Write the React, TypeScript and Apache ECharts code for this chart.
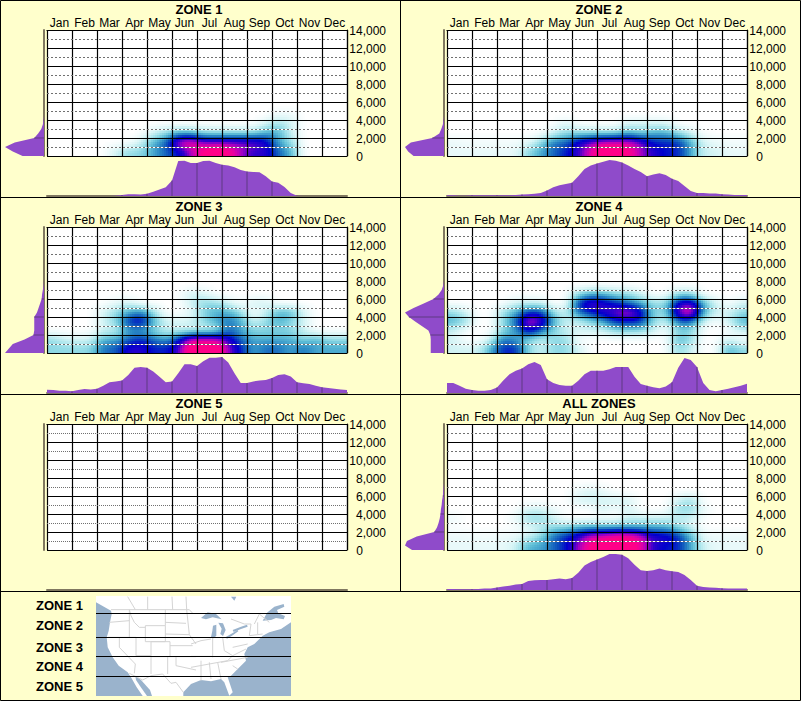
import React, { useEffect, useRef } from "react";
import * as echarts from "echarts";

const months = ["Jan","Feb","Mar","Apr","May","Jun","Jul","Aug","Sep","Oct","Nov","Dec"];
const heatColors = ["#ffffff","#d8f5f6","#9fe1e9","#5fbed6","#2a88c4","#0a4cbc","#0000cc","#3000cc","#a000c4","#e400a4","#ff0088"];
const purple = "#8f4bca";
const FONT = "'Liberation Sans', Arial, sans-serif";

// Heat rows run from 7,500 ft (top) down to 500 ft; each has two columns per month.
const zone1Heat = [
  [0,0,0,0,0,0,0,0,0,0,0,0,0,0,0,0,0,0,0,0,0,0,0,0],
  [0,0,0,0,0,0,0,0,0,0,0,0,0,0,0,0,0,0,0,0,0,0,0,0],
  [0,0,0,0,0,0,0,0,0,0,0,0,0,0,0,0,0,0,0,0,0,0,0,0],
  [0,0,0,0,0,0,0,0,0,0,0,0,0,0,0,0,0,0,0.5,0.5,0,0,0,0],
  [0,0,0,0,0,0,0,0,0,0,0,0,0,0,0,0,0,1,2,1,0,0,0,0],
  [0,0,0,0,0,0,0,0,1,2,3,3,2,2,2,2,2,3,3,1,0,0,0,0],
  [0,0,0,0,0,0,0,1,3,4,8,9,7,7,7,7,7,6,3,2,0,0,0,0],
  [0,0,0,0,0,1,2,2,3,4,5,7,9,10,9,7,6,6,4,3,0,0,0,0],
];
const zone2Heat = [
  [0,0,0,0,0,0,0,0,0,0,0,0,0,0,0,0,0,0,0,0,0,0,0,0],
  [0,0,0,0,0,0,0,0,0,0,0,0,0,0,0,0,0,0,0,0,0,0,0,0],
  [0,0,0,0,0,0,0,0,0,0,0,0,0,0,0,0,0,0,0,0,0,0,0,0],
  [0,0,0,0,0,0,0,0,0,0,0,0,0,0,0,0,0,0,0,0,0,0,0,0],
  [0,0,0,0,0,0,0,0,0,1,0,0,0,0,1,1,1,1,0,0,0,0,0,0],
  [0,0,0,0,0,0,0,0,1,2,2,2,2,2,3,2,3,3,2,1,0,0,0,0],
  [0.5,0.3,0.3,0.3,0.3,0.3,0.5,2,4,4,6,7,8,8,8,7,5,5,5,3,1,0.5,0.3,0.3],
  [0.5,0.5,0.5,0.5,0.5,0.5,2,3,4,5,6,8,10,10,9,7,6,5,5,3,1,1,0.5,0.5],
];
const zone3Heat = [
  [0,0,0,0,0,0,0,0,0,0,0,0,0,0,0,0,0,0,0,0,0,0,0,0],
  [0,0,0,0,0,0,0,0,0,0,0,1,1,0,0,0,0,0,0,0,0,0,0,0],
  [0,0,0,0,0,0.5,1,0,0,0,0,1,2,2,1,0,1,1,0,0,0,0,0,0],
  [0,0,0,0,1,2,3,4,2,0,0,0.5,2,3,3,2,0,1,3,3,1,0,0,0],
  [0,0,0,0,1,2,5,6,3,1,1,1,2,3,4,3,1,2,3,2,1,0,0,0],
  [0,0,0,0,1,1,3,3,2,1,1,1,1,1,4,3,2,2,2,2,1,0,0,0],
  [2,1,1,1,3,3,4,5,4,3,5,8,8,8,6,4,3,3,3,3,2,3,2,2],
  [2,2,2,2,4,4,6,6,5,5,6,10,10,10,7,5,3,4,4,3,4,3,3,3],
];
const zone4Heat = [
  [0,0,0,0,0,0,0,0,0,0,0,0,0,0,0,0,0,0,0,0,0,0,0,0],
  [0,0,0,0,0,0,0,0,0,0,2,3,3,2,2,1,0,0,2,2,0,0,0,0],
  [0,0,0,0,0,1,1,1,0,0,5,7,6,5,4,3,2,2,6,7,3,1,0,1],
  [2,1,0,0,2,3,5,5,2,1,4,5,6,7,8,6,2,2,7,9,3,1,1,2],
  [3,2,0,0,2,4,8,7,3,1,1,2,3,5,5,5,2,1,4,4,1,0,1,3],
  [1,0,0,0,2,3,6,4,2,1,1,1,1,2,2,2,1,0,2,2,0,0,0,1],
  [1,0,0,1,4,3,2,1,2,2,0,0,0,0,0,0,0,0,3,2,0,0,1,0],
  [1,1,1,3,5,5,2,1,2,2,1,0,0,0,0,0,0,0,2,1,0,0,3,2],
];
const zone5Heat: number[][] = [];
const allZonesHeat = [
  [0,0,0,0,0,0,0,0,0,0,0,0,0,0,0,0,0,0,0,0,0,0,0,0],
  [0,0,0,0,0,0,0,0,0,0,0.5,1,0.5,0,0,0,0,0,0,0,0,0,0,0],
  [0,0,0,0,0,0,0,0,0,0,1,1,1,1,1,0,0,0,1,2,0,0,0,0],
  [0,0,0,0,0,0,1,1,0.5,0,0,0,1,0,1,0,0,0,2,2,0.5,0,0,0],
  [0.5,0,0,0,0,0.5,2,2,1,0,0,0,0,0,1,1,1,1,1,1,0,0,0,0],
  [0,0,0,0,0,0,0.5,1,2,2,3,3,3,3,3,3,3,3,2,1,0,0,0,0],
  [0.5,0.5,0.3,0.3,0.5,0.5,1,2,4,5,6,8,8,9,9,8,6,6,5,3,0.5,0.5,0.5,0.5],
  [0.5,0.5,0.5,0.5,0.5,1,3,3,4,5,7,9,10,10,10,8,6,5,5,3,1,0.5,0.5,0.5],
];

// Side profiles: share of peak, every 500 ft from 0 upward.
const zone1Side = [55,80,100,75,25,15,7,3,1];
const zone2Side = [78,92,100,85,30,12,7,3,1];
const zone3Side = [100,90,80,50,27,25,25,25,25,18,14,10,6,5,3,1];
const zone4Side = [34,34,34,34,35,40,57,74,90,100,78,52,27,14,6,2];
const zone5Side: number[] = [];
const allZonesSide = [82,100,95,70,25,18,14,11,9,8,6,5,3,2,1];

// Bottom profiles: share of peak, four points per month.
const zone1Bottom = [0,0,0,0,0,0,0,0,0,0,0,1,3,5,5,4,6,12,18,24,43,97,98,92,92,97,98,92,87,85,80,72,68,67,66,55,40,37,25,8,1,0,0,0,0,0,0,0,0];
const zone2Bottom = [2,2,1,1,2,2,2,2,2,2,2,3,4,5,6,8,15,24,30,33,37,55,75,85,90,95,100,98,93,85,75,67,55,60,63,58,48,42,28,14,8,8,7,7,5,4,3,3,3];
const zone3Bottom = [9,8,6,6,5,8,11,10,12,20,30,32,35,50,70,72,70,60,45,30,32,55,80,80,75,88,98,98,100,85,55,28,28,32,35,36,42,50,52,46,30,27,25,20,16,14,12,10,8];
const zone4Bottom = [28,28,20,12,8,6,6,8,15,35,52,62,68,80,86,78,38,28,22,20,20,34,52,62,62,62,66,72,72,72,45,25,20,16,13,18,30,70,97,92,72,28,8,5,8,12,16,20,26];
const zone5Bottom: number[] = [];
const allZonesBottom = [3,3,2,2,2,3,4,4,7,10,12,15,17,25,27,28,28,30,32,30,33,48,68,78,85,92,100,100,98,88,70,55,53,55,60,55,52,50,42,28,12,8,7,6,5,4,4,4,4];

const panels = [
  { title: "ZONE 1", col: 0, row: 0, heat: zone1Heat, side: zone1Side, bottom: zone1Bottom, dash: [2, 2] },
  { title: "ZONE 2", col: 1, row: 0, heat: zone2Heat, side: zone2Side, bottom: zone2Bottom, dash: [2, 2] },
  { title: "ZONE 3", col: 0, row: 1, heat: zone3Heat, side: zone3Side, bottom: zone3Bottom, dash: [2, 2] },
  { title: "ZONE 4", col: 1, row: 1, heat: zone4Heat, side: zone4Side, bottom: zone4Bottom, dash: [2, 2] },
  { title: "ZONE 5", col: 0, row: 2, heat: zone5Heat, side: zone5Side, bottom: zone5Bottom, dash: [1, 1] },
  { title: "ALL ZONES", col: 1, row: 2, heat: allZonesHeat, side: allZonesSide, bottom: allZonesBottom, dash: [2, 2] },
];

const mapLabels = [
  { text: "ZONE 1", y: 605 },
  { text: "ZONE 2", y: 625 },
  { text: "ZONE 3", y: 647 },
  { text: "ZONE 4", y: 666 },
  { text: "ZONE 5", y: 686 },
];
const mapBands = [613.5, 637.5, 656.5, 676.5];

const z7 = (p: number[][]) => p.map(([x, y]) => [96 + x / 3, 594 + y / 3]);
const z8 = (p: number[][]) => p.map(([x, y]) => [191 + x / 3, 594 + y / 3]);

const landOutline = [
  [96,596],[291,596],[291,622.3],[281,629],[269.3,632.3],[262.7,635.7],[254.3,644],[247.7,647.3],[244.3,654],[246,660.7],
  [237.7,669],[231,675.7],[227.7,677.3],[232.7,692.3],[229.3,695.7],[224.3,682.3],[221,679],[211,681.3],[201,680],[191,684],
  [183.3,692.3],[183.3,696],[142.7,696],[136.7,687.3],[131,677.3],[127.7,672.3],[118.7,665.7],[112.7,657.3],[107.7,647.3],
  [106.7,637.3],[108.7,630.7],[110,622.3],[111.7,614],[111,610.7],[96,602.3],
];
const waterShapes = [
  [[135.3,675.7],[141,680],[150,690],[152,696],[147,696],[140,686],[136,680]],
  z8([[30,72],[50,55],[75,60],[92,76],[65,70],[45,76]]),
  z8([[66,95],[76,92],[76,125],[68,133],[60,130],[64,110]]),
  z8([[82,86],[96,88],[104,108],[96,126],[88,120],[92,104]]),
  z8([[103,130],[120,120],[140,108],[142,112],[122,126],[108,134]]),
  z8([[125,108],[150,98],[168,92],[170,98],[148,106],[128,114]]),
  z8([[215,80],[228,56],[250,38],[278,30],[280,38],[258,48],[262,58],[282,66],[278,76],[255,72],[240,78]]),
  z8([[120,8],[136,8],[130,20]]),
];
const stateLines = [
  ...[
    [[45,47],[280,47],[292,60]],[[95,8],[118,47]],[[155,8],[155,47]],[[228,8],[230,47]],[[270,8],[272,47]],
    [[40,85],[100,80]],[[100,47],[105,65],[115,85],[130,100],[148,100]],[[100,47],[100,130]],[[35,130],[120,130]],
    [[70,130],[70,160],[118,210],[115,238]],[[120,130],[120,185]],[[148,95],[208,95],[208,143],[148,143],[148,95]],
    [[208,47],[208,95]],[[208,85],[270,88]],[[208,120],[280,122]],[[165,143],[222,143],[222,188],[165,188],[165,143]],
    [[120,185],[165,185]],[[165,188],[165,240]],[[215,188],[215,240]],[[100,238],[140,258],[165,245],[200,240]],
    [[200,240],[225,268],[240,265],[262,295]],[[222,155],[290,155]],[[222,188],[300,188]],[[240,188],[240,215],[300,228]],
    [[272,47],[280,122],[300,150]],
  ].map(z7),
  ...[
    [[0,150],[30,140],[60,135]],[[0,187],[65,187]],[[65,130],[65,190]],[[95,130],[100,170]],[[0,220],[110,200]],
    [[30,200],[30,260]],[[55,205],[60,255]],[[80,205],[90,255]],[[100,170],[125,185]],[[125,160],[170,150]],
    [[165,165],[125,185],[110,200]],[[170,190],[90,205]],[[125,215],[140,225]],[[175,125],[215,120]],[[180,90],[175,125]],
    [[200,85],[200,120]],[[205,60],[190,90]],[[205,60],[235,85]],[[120,75],[160,90],[180,90]],
  ].map(z8),
];

// Cubic B-spline weights give the soft, blurred look of the reference.
const bspline = (t: number) => [
  (1 - t) ** 3 / 6,
  (3 * t ** 3 - 6 * t ** 2 + 4) / 6,
  (-3 * t ** 3 + 3 * t ** 2 + 3 * t + 1) / 6,
  t ** 3 / 6,
];

function sampler(matrix: number[][]) {
  const rows = matrix.length;
  const at = (c: number, r: number) =>
    r >= rows ? 0 : matrix[rows - 1 - Math.max(0, r)][Math.max(0, Math.min(23, c))];
  return (month: number, elev: number) => {
    const fc = month * 2 - 0.5;
    const fr = (elev - 500) / 1000;
    const c0 = Math.floor(fc), r0 = Math.floor(fr);
    const wc = bspline(fc - c0), wr = bspline(fr - r0);
    let sum = 0;
    for (let i = 0; i < 4; i++) for (let j = 0; j < 4; j++) sum += wc[i] * wr[j] * at(c0 + i - 1, r0 + j - 1);
    return sum * 1.14;
  };
}

function colorOf(v: number) {
  return echarts.color.lerp(Math.max(0, Math.min(1, v / 10)), heatColors) as string;
}

function buildOption() {
  const grid: any[] = [], xAxis: any[] = [], yAxis: any[] = [], series: any[] = [], title: any[] = [];
  panels.forEach((p) => {
    const ox = p.col * 400, oy = p.row * 197;
    title.push({
      text: p.title, left: ox + 199, top: oy + 3, textAlign: "center",
      textStyle: { fontFamily: FONT, fontSize: 13, fontWeight: "bold", color: "#000" }, padding: 0,
    });
    const g = grid.length;
    grid.push({ left: ox + 47, top: oy + 30, width: 300, height: 126, show: true, backgroundColor: "#fff", borderWidth: 0 });
    xAxis.push({
      type: "category", gridIndex: g, position: "top", data: months, z: 5,
      axisTick: { show: false }, axisLine: { onZero: false, lineStyle: { color: "#000", width: 1.2 } },
      axisLabel: { fontFamily: FONT, fontSize: 12, color: "#000", margin: 1, interval: 0 },
      splitLine: { show: true, interval: 0, lineStyle: { color: "#000", width: 1.2 } },
    });
    const xVal = xAxis.length;
    xAxis.push({ type: "value", gridIndex: g, min: 0, max: 12, show: false, position: "bottom" });
    const yMain = yAxis.length;
    yAxis.push({
      type: "value", gridIndex: g, position: "right", min: 0, max: 14000, interval: 2000, z: 5,
      axisTick: { show: false }, axisLine: { show: true, onZero: false, lineStyle: { color: "#000", width: 1.2 } },
      axisLabel: {
        fontFamily: FONT, fontSize: 12, color: "#000", align: "right", margin: 39, padding: [2, 0, 0, 0],
        formatter: (v: number) => (v === 0 ? "{z|0}" : v.toLocaleString("en-US")),
        rich: { z: { fontFamily: FONT, fontSize: 12, color: "#000", padding: [0, 23, 0, 0] } },
      },
      splitLine: { show: true, lineStyle: { color: "#000", width: 1.2 } },
      minorTick: { show: false, splitNumber: 2 },
      minorSplitLine: { show: true, lineStyle: { color: "#fff", width: 1 } },
    });
    yAxis.push({
      type: "value", gridIndex: g, position: "right", min: 0, max: 14000, interval: 2000, z: 6,
      axisTick: { show: false }, axisLine: { show: false, onZero: false }, axisLabel: { show: false },
      splitLine: { show: false },
      minorTick: { show: false, splitNumber: 2 },
      minorSplitLine: { show: true, lineStyle: { color: "#707070", width: 1, type: p.dash } },
    });
    if (p.heat.length) {
      const sample = sampler(p.heat);
      const cells: number[][] = [];
      p.heat.forEach((row, i) => row.forEach((v, c) => {
        cells.push([c / 2, (p.heat.length - 1 - i) * 1000, v]);
      }));
      series.push({
        type: "custom", xAxisIndex: xVal, yAxisIndex: yMain, z: 1, silent: true, clip: true,
        data: cells, encode: { x: 0, y: 1 },
        renderItem: (_: any, api: any) => {
          const m0 = api.value(0), e0 = api.value(1);
          const a = api.coord([m0, e0 + 1000]);
          const b = api.coord([m0 + 0.5, e0]);
          const x0 = Math.round(a[0]), x1 = Math.round(b[0]), y0 = Math.round(a[1]), y1 = Math.round(b[1]);
          const children: any[] = [];
          const step = 2;
          for (let x = x0; x < x1; x += step) {
            for (let y = y0; y < y1; y += step) {
              const w = Math.min(step, x1 - x), h = Math.min(step, y1 - y);
              const mm = m0 + ((x + w / 2 - a[0]) / (b[0] - a[0])) * 0.5;
              const ee = e0 + 1000 - ((y + h / 2 - a[1]) / (b[1] - a[1])) * 1000;
              const v = sample(mm, ee);
              if (v < 0.06) continue;
              children.push({ type: "rect", shape: { x, y, width: w, height: h }, style: { fill: colorOf(v) } });
            }
          }
          return { type: "group", children };
        },
      });
    }
    const gs = grid.length;
    grid.push({ left: ox + 5, top: oy + 30, width: 39, height: 126, show: false });
    const xs = xAxis.length, ys = yAxis.length;
    xAxis.push({ type: "value", gridIndex: gs, min: 0, max: 100, inverse: true, show: false });
    const elevs = Array.from({ length: 29 }, (_, i) => String(i * 500));
    const side = p.side.concat(Array(29 - p.side.length).fill(0));
    yAxis.push({
      type: "category", gridIndex: gs, data: elevs, boundaryGap: false, position: "right",
      axisLine: { show: true, onZero: false, lineStyle: { color: "#807860", width: 2 } },
      axisTick: { show: false }, axisLabel: { show: false }, splitLine: { show: false },
    });
    if (p.side.length) {
      series.push({
        type: "line", xAxisIndex: xs, yAxisIndex: ys, data: side, showSymbol: false, silent: true,
        lineStyle: { width: 0 }, areaStyle: { color: purple, opacity: 1 },
      });
      series.push({
        type: "bar", xAxisIndex: xs, yAxisIndex: ys, barWidth: 1, silent: true, z: 3,
        itemStyle: { color: "#5e3a82" },
        data: side.map((v, i) => (i > 0 && i % 4 === 0 ? v : null)),
      });
    }
    const gb = grid.length;
    grid.push({ left: ox + 47, top: oy + 160, width: 300, height: 36, show: false });
    const xb = xAxis.length, yb = yAxis.length;
    xAxis.push({
      type: "category", gridIndex: gb, boundaryGap: false, data: Array.from({ length: 49 }, (_, i) => String(i)),
      axisLine: { show: true, onZero: false, lineStyle: { color: "#807860", width: 2 } },
      axisTick: { show: false }, axisLabel: { show: false }, splitLine: { show: false },
    });
    yAxis.push({ type: "value", gridIndex: gb, min: 0, max: 100, show: false });
    if (p.bottom.length) {
      series.push({
        type: "line", xAxisIndex: xb, yAxisIndex: yb, data: p.bottom, showSymbol: false, silent: true,
        lineStyle: { width: 0 }, areaStyle: { color: purple, opacity: 1 },
      });
      series.push({
        type: "bar", xAxisIndex: xb, yAxisIndex: yb, barWidth: 1, silent: true, z: 3,
        itemStyle: { color: "#5e3a82" },
        data: p.bottom.map((v, i) => (i > 0 && i < 48 && i % 4 === 0 ? v : null)),
      });
    }
  });

  const borderLine = (x1: number, y1: number, x2: number, y2: number) => ({
    type: "line", silent: true, z: 20, shape: { x1, y1, x2, y2 }, style: { stroke: "#000", lineWidth: 1 },
  });
  const graphic: any[] = [
    borderLine(0.5, 0.5, 800.5, 0.5), borderLine(0.5, 0.5, 0.5, 700.5),
    borderLine(800.5, 0.5, 800.5, 700.5), borderLine(0.5, 700.5, 800.5, 700.5),
    borderLine(0.5, 197.5, 800.5, 197.5), borderLine(0.5, 394.5, 800.5, 394.5), borderLine(0.5, 591.5, 800.5, 591.5),
    borderLine(400.5, 0.5, 400.5, 591.5),
    { type: "rect", silent: true, z: 10, shape: { x: 96, y: 596, width: 195, height: 100 }, style: { fill: "#9ab3cc" } },
    { type: "polygon", silent: true, z: 11, shape: { points: landOutline }, style: { fill: "#fff" } },
    ...waterShapes.map((points) => ({ type: "polygon", silent: true, z: 12, shape: { points }, style: { fill: "#9ab3cc" } })),
    ...stateLines.map((points) => ({ type: "polyline", silent: true, z: 13, shape: { points }, style: { stroke: "#d4d4d4", lineWidth: 1, fill: "none" } })),
    ...mapBands.map((y) => ({ type: "line", silent: true, z: 14, shape: { x1: 96, y1: y, x2: 291, y2: y }, style: { stroke: "#000", lineWidth: 1 } })),
    ...mapLabels.map((l) => ({
      type: "text", silent: true, z: 15, x: 36, y: l.y,
      style: { text: l.text, font: `bold 13px ${FONT}`, fill: "#000", verticalAlign: "middle" },
    })),
  ];
  return { animation: false, backgroundColor: "#ffffcc", title, grid, xAxis, yAxis, series, graphic };
}

export default function App() {
  const ref = useRef<HTMLDivElement>(null);
  useEffect(() => {
    document.body.style.margin = "0";
    document.documentElement.style.overflow = "hidden";
    const chart = echarts.init(ref.current!, undefined, { renderer: "svg" });
    chart.setOption(buildOption() as any);
    return () => chart.dispose();
  }, []);
  return <div ref={ref} style={{ position: "absolute", left: 0, top: 0, width: 801, height: 701 }} />;
}
